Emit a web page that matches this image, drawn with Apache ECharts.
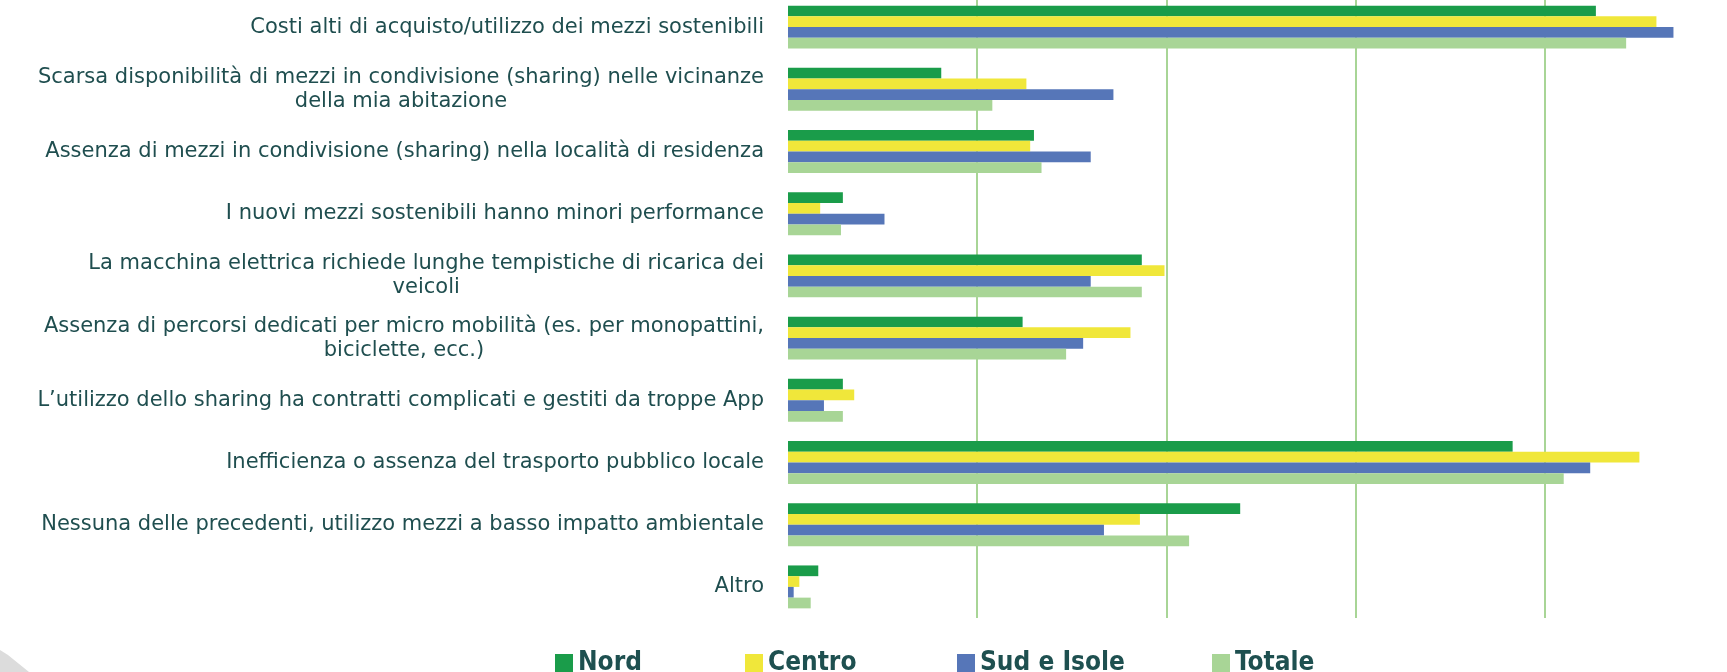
<!DOCTYPE html>
<html>
<head>
<meta charset="utf-8">
<script src="https://cdn.jsdelivr.net/npm/echarts@6/dist/echarts.min.js"></script>
<style>
  html, body { margin: 0; padding: 0; background: #fff; }
  #chart { width: 1727px; height: 672px; }
</style>
</head>
<body>
<div id="chart"></div>
<script>
// categorie (dall'alto verso il basso)
var categories = [
  "Costi alti di acquisto/utilizzo dei mezzi sostenibili",
  "Scarsa disponibilità di mezzi in condivisione (sharing) nelle vicinanze\ndella mia abitazione",
  "Assenza di mezzi in condivisione (sharing) nella località di residenza",
  "I nuovi mezzi sostenibili hanno minori performance",
  "La macchina elettrica richiede lunghe tempistiche di ricarica dei\nveicoli",
  "Assenza di percorsi dedicati per micro mobilità (es. per monopattini,\nbiciclette, ecc.)",
  "L’utilizzo dello sharing ha contratti complicati e gestiti da troppe App",
  "Inefficienza o assenza del trasporto pubblico locale",
  "Nessuna delle precedenti, utilizzo mezzi a basso impatto ambientale",
  "Altro"
];
var seriesNames = ["Nord", "Centro", "Sud e Isole", "Totale"];
var nord = [42.7, 8.1, 13.0, 2.9, 18.7, 12.4, 2.9, 38.3, 23.9, 1.6];
var centro = [45.9, 12.6, 12.8, 1.7, 19.9, 18.1, 3.5, 45.0, 18.6, 0.6];
var sud = [46.8, 17.2, 16.0, 5.1, 16.0, 15.6, 1.9, 42.4, 16.7, 0.3];
var totale = [44.3, 10.8, 13.4, 2.8, 18.7, 14.7, 2.9, 41.0, 21.2, 1.2];
var colors = ["#1a9c4a", "#f0e73a", "#5676b8", "#a8d596"];

var chart = echarts.init(document.getElementById("chart"));

// una legenda per voce, per collocare le icone come nell'originale
var legendLeft = [550, 740, 952, 1207];
var legends = seriesNames.map(function(name, i) {
  return {
    data: [name],
    left: legendLeft[i],
    top: 645,
    itemWidth: 18,
    itemHeight: 18,
    icon: "rect",
    textStyle: {
      color: "#1e5050",
      fontFamily: "'Liberation Sans Narrow', 'DejaVu Sans Condensed', sans-serif",
      fontWeight: "bold",
      fontSize: 26
    }
  };
});

var allData = [nord, centro, sud, totale];

chart.setOption({
  animation: false,
  color: colors,
  legend: legends,
  grid: {
    left: 788,
    top: -4,
    width: 946,
    height: 622,
    outerBoundsMode: "none"
  },
  xAxis: {
    type: "value",
    min: 0,
    max: 50,
    interval: 10,
    axisLabel: { show: false },
    axisLine: { show: false },
    axisTick: { show: false },
    splitLine: {
      showMinLine: false,
      lineStyle: { color: "#a8d596", width: 2 }
    }
  },
  yAxis: {
    type: "category",
    inverse: true,
    data: categories,
    axisLine: { show: false },
    axisTick: { show: false },
    axisLabel: {
      margin: 24,
      color: "#1f4e4f",
      fontFamily: "'DejaVu Sans', sans-serif",
      fontSize: 21,
      lineHeight: 24,
      formatter: function(value) {
        return value.split("\n").map(function(s) {
          return "{c|" + s + "}";
        }).join("\n");
      },
      rich: {
        c: {
          align: "center",
          color: "#1f4e4f",
          fontFamily: "'DejaVu Sans', sans-serif",
          fontSize: 21,
          lineHeight: 24
        }
      }
    }
  },
  graphic: [
    {
      type: "polygon",
      shape: { points: [[0, 650], [8, 655], [29, 672], [0, 672]] },
      style: { fill: "#dcdcdc" },
      silent: true
    }
  ],
  series: seriesNames.map(function(name, i) {
    return {
      name: name,
      type: "bar",
      data: allData[i],
      barGap: "0%",
      barCategoryGap: "31%"
    };
  })
});
</script>
</body>
</html>
